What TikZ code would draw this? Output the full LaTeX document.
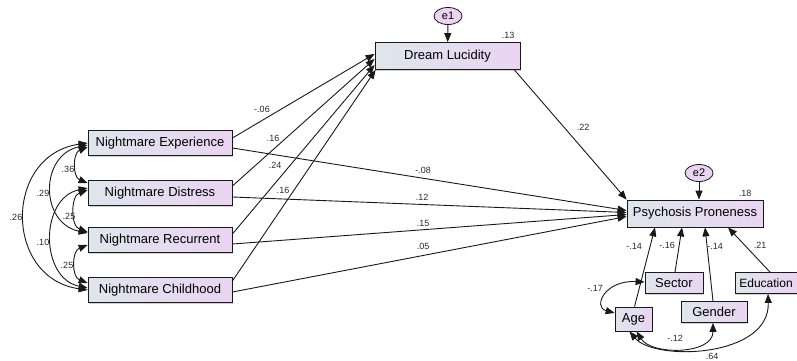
\documentclass[tikz,border=0pt]{standalone}
\usepackage{fontspec}
\setsansfont{Liberation Sans}
\usepackage{tikz}
\usetikzlibrary{positioning, shapes.geometric, arrows.meta, shadows}
\definecolor{semLine}{RGB}{25, 25, 25}
\definecolor{semLeft}{RGB}{222, 230, 236}
\definecolor{semRight}{RGB}{234, 212, 242}
\definecolor{semText}{RGB}{40, 40, 40}
\tikzset{
    base/.style={
        font=\sffamily\fontsize{13}{15}\selectfont,
        align=center
    },
    measure/.style={
        base,
        rectangle,
        draw=semLine,
        line width=0.8pt,
        left color=semLeft,
        right color=semRight,
        inner sep=0pt,
        minimum height=25pt,
        drop shadow={opacity=0.35, shadow xshift=0.8pt, shadow yshift=-1pt}
    },
    residual/.style={
        base,
        font=\sffamily\fontsize{11}{13}\selectfont,
        ellipse,
        draw=semLine,
        line width=0.8pt,
        fill=semRight,
        inner sep=0pt,
        minimum width=28pt,
        minimum height=17pt
    },
    effect/.style={
        -{Triangle[length=9pt, width=7pt]},
        line width=0.9pt,
        color=semLine
    },
    cov/.style={
        {Triangle[length=9pt, width=7pt]}-{Triangle[length=9pt, width=7pt]},
        line width=0.9pt,
        color=semLine
    },
    coef/.style={
        font=\sffamily\fontsize{9}{10}\selectfont,
        text=semText,
        inner sep=0pt
    }
}

\begin{document}
\begin{tikzpicture}[x=1pt, y=-1pt]
  \useasboundingbox (0,0) rectangle (797,360);

  % Nightmare predictors
  \node[measure, minimum width=144pt] (ne) at (160,143) {Nightmare Experience};
  \node[measure, minimum width=144pt] (nd) at (160,193) {Nightmare Distress};
  \node[measure, minimum width=144pt] (nr) at (160,240) {Nightmare Recurrent};
  \node[measure, minimum width=144pt] (nc) at (160,290) {Nightmare Childhood};

  % Dream lucidity
  \node[measure, minimum width=145pt, minimum height=27pt] (dl) at (447.5,56) {Dream Lucidity};
  \node[residual] (e1) at (448,16) {e1};
  \node[coef] at (508,35) {.13};

  % Psychosis proneness
  \node[measure, minimum width=136pt, minimum height=27pt] (pp) at (695,213.5) {Psychosis Proneness};
  \node[residual] (e2) at (699,173) {e2};
  \node[coef] at (745,193) {.18};

  % Controls
  \node[measure, minimum width=58pt, minimum height=21pt] (sec) at (674,283) {Sector};
  \node[measure, minimum width=62pt, minimum height=21pt, font=\sffamily\fontsize{12}{14}\selectfont] (edu) at (766,283) {Education};
  \node[measure, minimum width=66pt, minimum height=21pt] (gen) at (714,312) {Gender};
  \node[measure, minimum width=37pt, minimum height=24pt] (age) at (633.5,319) {Age};

  % Residuals
  \draw[effect] (e1) -- (dl);
  \draw[effect] (e2) -- ([xshift=4pt]pp.north);

  % Paths to dream lucidity
  \draw[effect] ([yshift=5pt]ne.east) -- ([yshift=16pt]dl.south west);
  \draw[effect] ([yshift=7pt]nd.east) -- ([yshift=11pt]dl.south west);
  \draw[effect] ([yshift=6pt]nr.east) -- ([yshift=5pt]dl.south west);
  \draw[effect] ([yshift=9pt]nc.east) -- ([xshift=1pt]dl.south west);
  \node[coef] at (262,109) {-.06};
  \node[coef] at (273,138) {.16};
  \node[coef] at (275,165) {.24};
  \node[coef] at (283,190) {.16};

  % Paths to psychosis proneness
  \draw[effect] ([yshift=-5pt]ne.east) -- ([yshift=3pt]pp.west);
  \draw[effect] ([yshift=-4pt]nd.east) -- ([yshift=1pt]pp.west);
  \draw[effect] ([yshift=-4pt]nr.east) -- ([yshift=-1pt]pp.west);
  \draw[effect] ([yshift=-2pt]nc.east) -- ([yshift=-3pt]pp.west);
  \draw[effect] ([xshift=-6pt]dl.south east) -- (pp.north west);
  \node[coef] at (423,170) {-.08};
  \node[coef] at (422,197) {.12};
  \node[coef] at (423,223) {.15};
  \node[coef] at (423,246) {.05};
  \node[coef] at (583,127) {.22};

  % Control paths
  \draw[effect] ([xshift=1pt]age.north) -- ([xshift=-40pt]pp.south);
  \draw[effect] ([xshift=1pt]sec.north) -- ([xshift=-13pt]pp.south);
  \draw[effect] ([xshift=-1pt]gen.north) -- ([xshift=10pt]pp.south);
  \draw[effect] ([xshift=4pt]edu.north) -- ([xshift=33pt]pp.south);
  \node[coef] at (634,246) {-.14};
  \node[coef] at (667,245) {-.16};
  \node[coef] at (715,246) {-.14};
  \node[coef] at (760,245) {.21};

  % Covariances among nightmare scores
  \draw[cov] ([yshift=-4pt]ne.west) .. controls +(-15pt,-6pt) and +(-15pt,6pt) .. ([yshift=10pt]nd.west);
  \draw[cov] ([yshift=3pt]nd.west) .. controls +(-17pt,-6pt) and +(-17pt,6pt) .. ([yshift=8pt]nr.west);
  \draw[cov] ([yshift=-5pt]nr.west) .. controls +(-16pt,-6pt) and +(-16pt,6pt) .. ([yshift=7pt]nc.west);
  \draw[cov] ([yshift=-2pt]ne.west) .. controls +(-48pt,-10pt) and +(-48pt,10pt) .. ([yshift=7pt]nr.west);
  \draw[cov] ([yshift=5pt]nd.west) .. controls +(-48pt,-10pt) and +(-48pt,10pt) .. ([yshift=2pt]nc.west);
  \draw[cov] (ne.west) .. controls +(-84pt,-12pt) and +(-84pt,12pt) .. (nc.west);
  \node[coef] at (68,169) {.36};
  \node[coef] at (43,193) {.29};
  \node[coef] at (16,217) {.26};
  \node[coef] at (69,216) {.25};
  \node[coef] at (43,242) {.10};
  \node[coef] at (67,265) {.25};

  % Covariances among controls
  \draw[cov] ([yshift=1pt]sec.west) .. controls +(-40pt,2pt) and +(-22pt,6pt) .. ([yshift=6pt]age.west);
  \draw[cov] ([xshift=3pt]age.south) .. controls +(15pt,-24pt) and +(0pt,-32pt) .. ([xshift=-1pt]gen.south);
  \draw[cov] ([xshift=-4pt]age.south) .. controls +(25pt,-30pt) and +(2pt,-64pt) .. ([xshift=2pt]edu.south);
  \node[coef] at (595,288) {-.17};
  \node[coef] at (675,338) {-.12};
  \node[coef] at (712,356) {.64};
\end{tikzpicture}
\end{document}
